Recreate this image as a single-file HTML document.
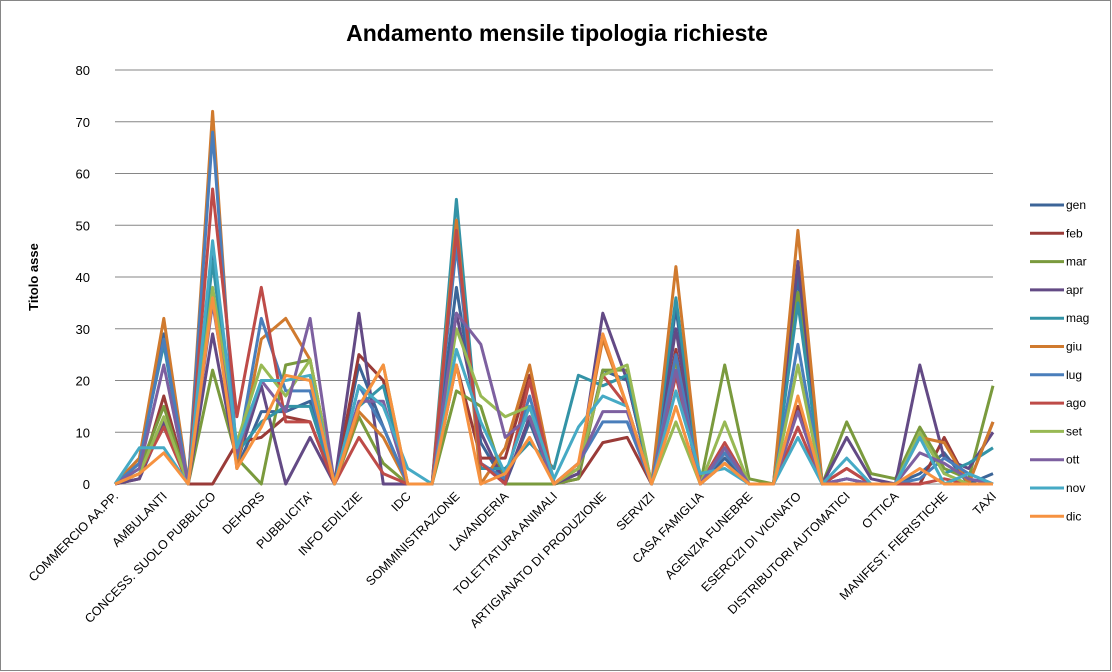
<!DOCTYPE html>
<html><head><meta charset="utf-8"><style>
body{margin:0;background:#fff}
svg{display:block;font-family:"Liberation Sans",sans-serif}
</style></head><body>
<svg id="chart" width="1112" height="672" viewBox="0 0 1112 672" xmlns="http://www.w3.org/2000/svg">
<rect x="0.5" y="0.5" width="1110" height="670" fill="#fff" stroke="#868686"/>
<text x="557" y="41" text-anchor="middle" font-size="23" font-weight="bold">Andamento mensile tipologia richieste</text>
<text transform="translate(38,277) rotate(-90)" text-anchor="middle" font-size="13" font-weight="bold">Titolo asse</text>
<g id="grid"></g><g id="series"></g><g id="xlabels"></g><g id="legend"></g>
</svg>
<script>
const categories=["COMMERCIO AA.PP.","","AMBULANTI","","CONCESS. SUOLO PUBBLICO","","DEHORS","","PUBBLICITA'","","INFO EDILIZIE","","IDC","","SOMMINISTRAZIONE","","LAVANDERIA","","TOLETTATURA  ANIMALI","","ARTIGIANATO  DI PRODUZIONE","","SERVIZI","","CASA FAMIGLIA","","AGENZIA FUNEBRE","","ESERCIZI DI VICINATO","","DISTRIBUTORI AUTOMATICI","","OTTICA","","MANIFEST. FIERISTICHE","","TAXI"];
const seriesNames=["gen","feb","mar","apr","mag","giu","lug","ago","set","ott","nov","dic"];
const seriesColors=["#3C6598","#9A3B38","#7A9A3D","#634A85","#3393A6","#D07A2E","#4A7EBB","#BE4B48","#98B954","#7D60A0","#46AAC5","#F69240"];
const gen=[0,4,29,0,44,3,14,14,16,0,23,11,0,0,38,8,0,12,0,2,22,20,0,34,0,5,0,0,40,0,0,0,0,2,6,0,2];
const feb=[0,1,17,0,0,8,9,13,12,0,25,20,0,0,23,5,5,21,0,1,8,9,0,26,0,6,0,0,15,0,3,0,0,0,9,0,12];
const mar=[0,3,15,0,22,5,0,23,24,0,13,4,0,0,18,15,0,0,0,1,22,22,0,24,0,23,1,0,37,0,12,2,1,11,3,1,19];
const apr=[0,1,12,0,29,4,19,0,9,0,33,0,0,0,33,10,0,13,0,2,33,20,0,30,0,7,0,0,43,0,9,1,0,23,5,3,10];
const mag=[0,5,27,0,43,6,12,15,15,0,15,19,0,0,55,3,3,8,3,21,19,21,0,36,0,4,0,0,35,0,1,0,0,10,2,4,7];
const giu=[0,5,32,0,72,3,28,32,24,0,14,9,0,0,51,0,7,23,0,3,28,15,0,42,0,4,0,0,49,0,0,0,0,9,8,0,12];
const lug=[0,4,28,0,68,5,32,18,18,0,19,11,0,0,46,4,1,17,0,4,12,12,0,25,0,6,0,0,27,0,1,0,0,1,5,2,0];
const ago=[0,2,11,0,57,13,38,12,12,0,9,2,0,0,49,4,0,20,0,3,21,15,0,21,0,8,0,0,11,0,3,0,0,0,1,0,0];
const set=[0,2,13,0,38,8,23,17,24,0,15,23,0,0,30,17,13,15,0,3,21,23,0,12,0,12,0,0,23,0,0,0,0,10,2,0,0];
const ott=[0,3,23,0,35,6,20,14,32,0,16,16,0,0,33,27,9,13,0,4,14,14,0,22,0,7,0,0,14,0,1,0,0,6,4,1,0];
const nov=[0,7,7,0,47,7,20,20,21,0,19,15,3,0,26,12,2,15,1,11,17,15,0,18,2,3,0,0,9,0,5,0,0,9,0,2,0];
const dic=[0,2,6,0,36,3,11,21,20,0,15,23,0,0,23,0,2,9,0,4,29,15,0,15,0,4,0,0,17,0,0,0,0,3,0,0,0];
const seriesValues=[gen,feb,mar,apr,mag,giu,lug,ago,set,ott,nov,dic];
const yTicks=[0,10,20,30,40,50,60,70,80];

const NS="http://www.w3.org/2000/svg";
const X0=115,X1=993,Y0=484,Y1=70,YMAX=80;
function xs(i){return X0+i*(X1-X0)/(categories.length-1);}
function ys(v){return Y0-v*(Y0-Y1)/YMAX;}
function mk(tag,attrs,parent){const e=document.createElementNS(NS,tag);for(const k in attrs)e.setAttribute(k,attrs[k]);parent.appendChild(e);return e;}
const grid=document.getElementById('grid');
yTicks.forEach(t=>{
  const l=mk('line',{x1:X0,x2:X1,y1:ys(t),y2:ys(t),stroke:t===0?'#868686':'#868686','stroke-width':1},grid);
  
  
  const tx=mk('text',{x:90,y:ys(t)+5,'text-anchor':'end','font-size':13},grid);
  tx.textContent=t;
  
  
});
const sg=document.getElementById('series');
seriesValues.forEach((vals,s)=>{
  const pts=vals.map((v,i)=>xs(i).toFixed(1)+','+ys(v).toFixed(1)).join(' ');
  const p=mk('polyline',{points:pts,fill:'none',stroke:seriesColors[s],'stroke-width':3,'stroke-linejoin':'round'},sg);
  
  
});
const xl=document.getElementById('xlabels');
categories.forEach((c,i)=>{
  if(!c)return;
  const x=xs(i)+4,y=497;
  const t=mk('text',{x:x,y:y,'text-anchor':'end','font-size':12.5,transform:`rotate(-45 ${x} ${y})`},xl);
  t.textContent=c;
  
  
});
const lg=document.getElementById('legend');
seriesNames.forEach((n,s)=>{
  const y=205+s*28.3;
  const l=mk('line',{x1:1030,x2:1064,y1:y,y2:y,stroke:seriesColors[s],'stroke-width':3},lg);
  
  
  const t=mk('text',{x:1066,y:y+4,'font-size':12},lg);
  t.textContent=n;
  
  
});
</script>
</body></html>
